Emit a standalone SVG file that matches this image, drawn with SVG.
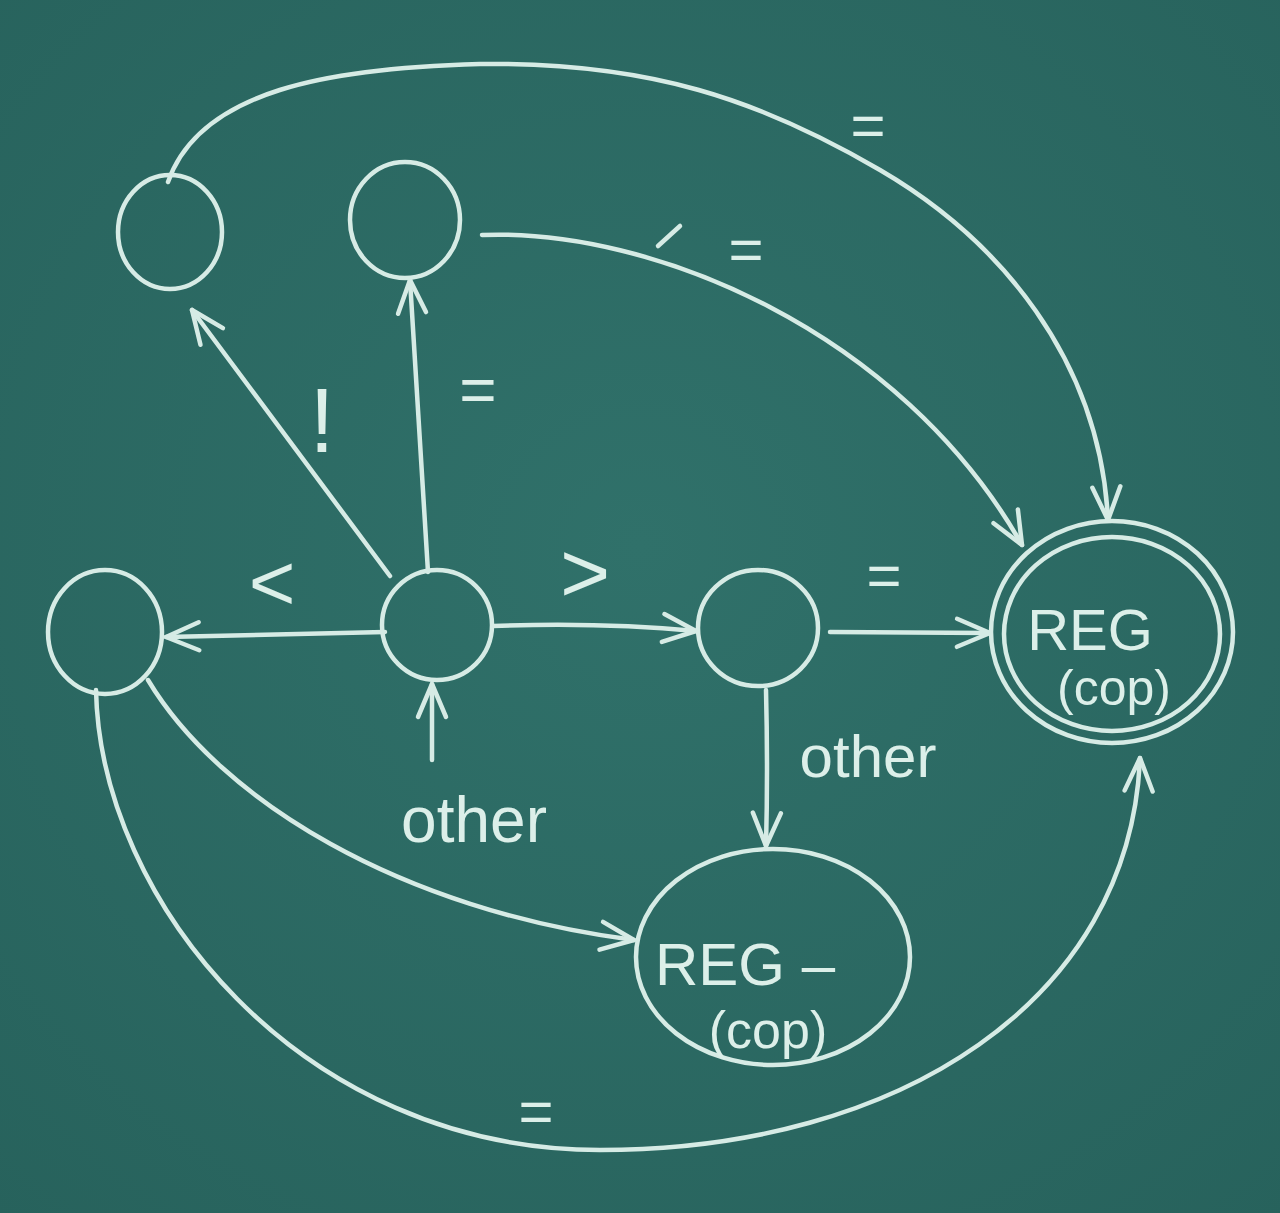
<svg xmlns="http://www.w3.org/2000/svg" width="1280" height="1213" viewBox="0 0 1280 1213">
<style>
.chalk{fill:none;stroke:#d6ebe5;stroke-width:4.5;stroke-linecap:round;stroke-linejoin:round}
.lbl{fill:#dcefe9;font-family:"Liberation Sans","DejaVu Sans",sans-serif;text-anchor:middle}
</style>
<defs>
<radialGradient id="bg" cx="50%" cy="45%" r="75%">
<stop offset="0" stop-color="#30716a"/>
<stop offset="1" stop-color="#27625c"/>
</radialGradient>
<marker id="ah" viewBox="0 0 40 40" markerWidth="40" markerHeight="40" refX="37" refY="20" orient="auto" markerUnits="userSpaceOnUse">
<path d="M4,6 L37,20 L4,34" fill="none" stroke="#d6ebe5" stroke-width="4.5" stroke-linecap="round" stroke-linejoin="round"/>
</marker>
</defs>
<rect width="1280" height="1213" fill="url(#bg)"/>

<g id="connectors">
<path class="chalk" d="M390,576 L192,310" marker-end="url(#ah)"/>
<path class="chalk" d="M428,572 L410,280" marker-end="url(#ah)"/>
<path class="chalk" d="M385,632 L166,637" marker-end="url(#ah)"/>
<path class="chalk" d="M493,626 Q600,622 696,631" marker-end="url(#ah)"/>
<path class="chalk" d="M432,760 L432,684" marker-end="url(#ah)"/>
<path class="chalk" d="M830,632 L990,633" marker-end="url(#ah)"/>
<path class="chalk" d="M766,690 Q768,770 766,846" marker-end="url(#ah)"/>
<path class="chalk" d="M168,182 C200,90 330,68 480,64 C650,62 760,100 880,170 C1000,240 1100,360 1108,520" marker-end="url(#ah)"/>
<path class="chalk" d="M482,235 C650,228 900,330 1022,545" marker-end="url(#ah)"/>
<path class="chalk" d="M658,246 L680,226"/>
<path class="chalk" d="M148,680 C220,800 400,910 634,940" marker-end="url(#ah)"/>
<path class="chalk" d="M96,690 C100,900 300,1150 600,1150 C900,1150 1130,1000 1140,758" marker-end="url(#ah)"/>
</g>

<g id="labels">
<text class="lbl" x="322" y="452" font-size="90">!</text>
<text class="lbl" x="478" y="412" font-size="64">=</text>
<text class="lbl" x="272" y="610" font-size="80">&lt;</text>
<text class="lbl" x="585" y="602" font-size="86">&gt;</text>
<text class="lbl" x="884" y="596" font-size="60">=</text>
<text class="lbl" x="868" y="146" font-size="60">=</text>
<text class="lbl" x="746" y="270" font-size="60">=</text>
<text class="lbl" x="536" y="1132" font-size="60">=</text>
<text class="lbl" x="474" y="842" font-size="64">other</text>
<text class="lbl" x="868" y="777" font-size="60">other</text>
</g>

<g id="node-a"><ellipse class="chalk" cx="170" cy="232" rx="52" ry="57"/></g>
<g id="node-b"><ellipse class="chalk" cx="405" cy="220" rx="55" ry="58"/></g>
<g id="node-c"><ellipse class="chalk" cx="105" cy="632" rx="57" ry="62"/></g>
<g id="node-d"><ellipse class="chalk" cx="437" cy="625" rx="55" ry="55"/></g>
<g id="node-e"><ellipse class="chalk" cx="758" cy="628" rx="60" ry="58"/></g>
<g id="node-f">
<ellipse class="chalk" cx="1112" cy="632" rx="121" ry="111"/>
<ellipse class="chalk" cx="1112" cy="634" rx="108" ry="97"/>
<text class="lbl" x="1090" y="650" font-size="58">REG</text>
<text class="lbl" x="1114" y="705" font-size="50">(cop)</text>
</g>
<g id="node-g">
<ellipse class="chalk" cx="773" cy="957" rx="137" ry="108"/>
<text class="lbl" x="745" y="985" font-size="60">REG –</text>
<text class="lbl" x="768" y="1048" font-size="52">(cop)</text>
</g>
</svg>
